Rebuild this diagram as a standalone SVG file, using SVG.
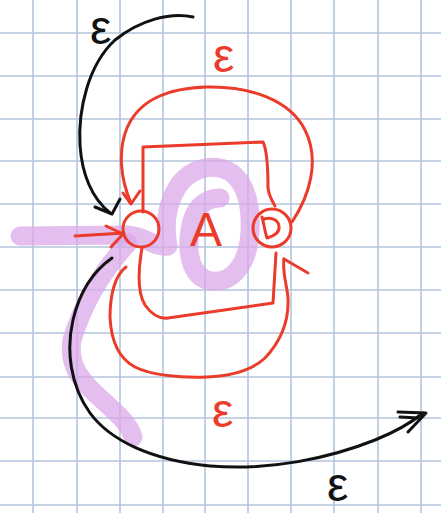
<svg xmlns="http://www.w3.org/2000/svg" width="441" height="513" viewBox="0 0 441 513">
<style>
.grid line{stroke:#b3c5dd;stroke-width:1.6}
.red{fill:none;stroke:#eb3b2a;stroke-width:3;stroke-linecap:round;stroke-linejoin:round}
.blk{fill:none;stroke:#111;stroke-width:3;stroke-linecap:round;stroke-linejoin:round}
.hl{fill:none;stroke:#d9a8ea;stroke-width:19;stroke-linecap:round;stroke-linejoin:round;opacity:0.75}
.lbl{font-family:"Liberation Sans",sans-serif;font-size:48px}
</style>
<rect width="441" height="513" fill="#fff"/>
<g class="grid">
<line x1="33" y1="0" x2="33" y2="513"/><line x1="77" y1="0" x2="77" y2="513"/><line x1="120" y1="0" x2="120" y2="513"/><line x1="163" y1="0" x2="163" y2="513"/><line x1="205" y1="0" x2="205" y2="513"/><line x1="248" y1="0" x2="248" y2="513"/><line x1="291" y1="0" x2="291" y2="513"/><line x1="334" y1="0" x2="334" y2="513"/><line x1="378" y1="0" x2="378" y2="513"/><line x1="421" y1="0" x2="421" y2="513"/>
<line x1="0" y1="33" x2="441" y2="33"/><line x1="0" y1="76" x2="441" y2="76"/><line x1="0" y1="119" x2="441" y2="119"/><line x1="0" y1="161" x2="441" y2="161"/><line x1="0" y1="204" x2="441" y2="204"/><line x1="0" y1="247" x2="441" y2="247"/><line x1="0" y1="290" x2="441" y2="290"/><line x1="0" y1="333" x2="441" y2="333"/><line x1="0" y1="377" x2="441" y2="377"/><line x1="0" y1="418" x2="441" y2="418"/><line x1="0" y1="461" x2="441" y2="461"/><line x1="0" y1="505" x2="441" y2="505"/>
</g>
<g id="highlight">
<path class="hl" d="M20,236 L128,235 C145,236 155,248 168,246 C162,215 172,175 205,168 C240,162 252,195 250,232 C248,265 232,283 212,281 C192,279 186,255 190,230 C193,210 203,198 220,198"/>
<path class="hl" d="M128,243 C105,268 84,300 72,340 C68,365 80,380 100,398 C118,414 130,425 133,437"/>
</g>
<g id="connectors">
<path class="blk" d="M193,17 C170,12 140,20 115,40 C88,65 78,110 80,145 C82,175 92,198 110,213"/>
<path class="blk" d="M95,207 L112,214 L120,199"/>
<path class="red" d="M292,222 C310,195 320,160 305,130 C290,100 250,86 207,87 C170,88 140,98 127,128 C118,150 120,178 131,203"/>
<path class="red" d="M123,193 L131,204 L140,191"/>
<path class="red" d="M143,212 L143,147 L263,142 C267,150 268,170 268,188 C269,196 272,201 275,206"/>
<path class="red" d="M142,248 C139,265 136,290 145,305 C152,315 160,319 168,318 L273,303 L276,253"/>
<path class="red" d="M126,267 C115,275 110,295 110,317 C111,340 118,358 135,367 C150,375 180,378 207,377 C230,376 252,370 265,358 C282,340 289,320 288,298 C287,285 282,272 284,259"/>
<path class="red" d="M284,259 L308,273"/>
<path class="red" d="M75,236 L124,233"/>
<path class="red" d="M106,226 L123,234 L111,247"/>
<path class="blk" d="M112,258 C95,270 80,290 73,320 C66,350 70,385 90,413 C110,440 150,460 210,466 C270,471 330,458 375,440 C395,432 412,422 423,413"/>
<path class="blk" d="M398,412 L426,413 L408,432"/>
<path class="blk" d="M400,417 L418,418"/>
</g>
<g id="state0">
<circle class="red" cx="141" cy="229" r="18"/>
</g>
<g id="stateA">
<text class="lbl" x="190" y="246" fill="#eb3b2a" font-size="62">A</text>
</g>
<g id="state1">
<circle class="red" cx="272" cy="228" r="19"/>
<path class="red" d="M262,217 C264,224 265,232 267,238 C274,236 280,232 279,226 C278,219 270,217 264,219"/>
</g>
<g id="labels">
<text class="lbl" x="90" y="44" fill="#111">ε</text>
<text class="lbl" x="213" y="72" fill="#eb3b2a">ε</text>
<text class="lbl" x="212" y="427" fill="#eb3b2a">ε</text>
<text class="lbl" x="327" y="501" fill="#111">ε</text>
</g>
</svg>
